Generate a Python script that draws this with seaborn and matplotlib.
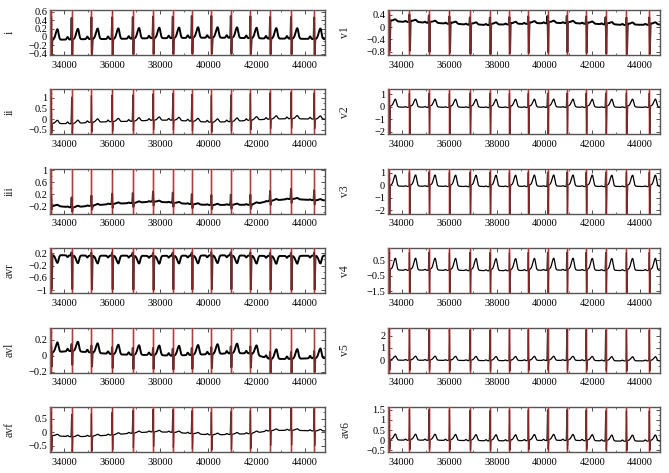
import numpy as np
import pandas as pd
import matplotlib
matplotlib.use("Agg")
import matplotlib.pyplot as plt
from matplotlib.ticker import FixedLocator, MultipleLocator, FuncFormatter
import seaborn as sns

# ---------------- data ----------------
LEADS = ["i", "ii", "iii", "avr", "avl", "avf", "v1", "v2", "v3", "v4", "v5", "av6"]
BEATS = [33470, 34320, 35140, 36000, 36860, 37700, 38520, 39310,
         40120, 40930, 41740, 42560, 43430, 44390]
X_TICKS = [34000, 36000, 38000, 40000, 42000, 44000]
XLIM = (33420, 44840)

# wave amplitudes relative to the baseline (per lead)
R_AMP = [0.55, 1.30, 0.35, 0.15, 0.10, 0.90, 0.30, 1.30, 1.30, 1.30, 2.60, 1.55]
S_AMP = [-0.40, -0.50, -0.15, -1.10, -0.18, -0.60, -0.95, -2.20, -2.25, -1.60, -0.90, -0.50]
T_AMP = [0.25, 0.15, 0.04, -0.25, 0.12, 0.06, 0.06, 0.60, 0.85, 0.75, 0.32, 0.28]
P_AMP = [0.06, 0.08, 0.02, -0.06, 0.03, 0.04, 0.03, 0.05, 0.05, 0.06, 0.06, 0.06]
ST_AMP = [0.0, 0.0, 0.0, 0.0, 0.0, 0.0, 0.05, 0.15, 0.15, 0.10, 0.05, 0.05]

# baseline level at each beat (per lead)
BASE_I = [-0.07, -0.06, -0.05, -0.05, -0.04, -0.03, -0.03, -0.02, -0.02, -0.02, -0.03, -0.04, -0.04, -0.05]
BASE_II = [-0.20, -0.22, -0.15, -0.12, -0.10, -0.05, -0.05, -0.10, -0.15, -0.12, -0.05, 0.00, 0.02, 0.00]
BASE_III = [-0.17, -0.24, -0.18, -0.12, -0.09, -0.04, -0.08, -0.13, -0.16, -0.15, -0.15, -0.02, 0.05, 0.00]
BASE_AVR = [0.14, 0.13, 0.12, 0.12, 0.12, 0.11, 0.12, 0.12, 0.13, 0.13, 0.12, 0.11, 0.11, 0.12]
BASE_AVL = [0.04, 0.06, 0.04, 0.02, 0.01, 0.01, 0.00, 0.01, 0.02, 0.03, 0.03, -0.04, -0.04, -0.03]
BASE_AVF = [-0.12, -0.17, -0.15, -0.10, -0.03, 0.02, 0.00, -0.05, -0.10, -0.08, -0.05, 0.06, 0.08, 0.05]
BASE_V1 = [0.17, 0.16, 0.13, 0.10, 0.07, 0.06, 0.08, 0.10, 0.12, 0.12, 0.10, 0.08, 0.06, 0.07]
BASE_V2 = [-0.05, -0.05, -0.05, -0.06, -0.06, -0.07, -0.07, -0.06, -0.05, -0.05, -0.06, -0.06, -0.06, -0.05]
BASE_V3 = [-0.10, -0.10, -0.10, -0.11, -0.12, -0.12, -0.12, -0.11, -0.10, -0.10, -0.11, -0.12, -0.12, -0.11]
BASE_V4 = [-0.15, -0.15, -0.15, -0.16, -0.17, -0.18, -0.18, -0.17, -0.15, -0.15, -0.16, -0.17, -0.17, -0.16]
BASE_V5 = [0.00, -0.01, -0.01, -0.02, -0.03, -0.04, -0.04, -0.03, -0.02, -0.02, -0.03, -0.05, -0.06, -0.05]
BASE_AV6 = [0.00, -0.01, -0.01, -0.02, -0.03, -0.04, -0.04, -0.03, -0.02, -0.02, -0.03, -0.05, -0.06, -0.05]
BASELINES = [BASE_I, BASE_II, BASE_III, BASE_AVR, BASE_AVL, BASE_AVF,
             BASE_V1, BASE_V2, BASE_V3, BASE_V4, BASE_V5, BASE_AV6]

YLIMS = [(-0.43, 0.64), (-0.72, 1.40), (-0.45, 1.05), (-1.09, 0.36), (-0.21, 0.35), (-0.74, 0.95),
         (-0.90, 0.55), (-2.20, 1.40), (-2.27, 1.32), (-1.63, 1.30), (-1.00, 2.65), (-0.58, 1.63)]
YTICKS = [[-0.4, -0.2, 0, 0.2, 0.4, 0.6], [-0.5, 0, 0.5, 1], [-0.2, 0.2, 0.6, 1],
          [-1, -0.6, -0.2, 0.2], [-0.2, 0, 0.2], [-0.5, 0, 0.5],
          [-0.8, -0.4, 0, 0.4], [-2, -1, 0, 1], [-2, -1, 0, 1],
          [-1.5, -0.5, 0.5], [0, 1, 2], [-0.5, 0, 0.5, 1, 1.5]]
YMINOR = [0.1, 0.25, 0.2, 0.2, 0.1, 0.25, 0.2, 0.5, 0.5, 0.5, 0.5, 0.25]
NOISY = [True, False, True, True, True, False, True, False, False, False, False, False]

# ---------------- signal from the read values ----------------
t = np.arange(XLIM[0] - 60, XLIM[1] + 60, 3.0)


def gauss(x, c, s):
    return np.exp(-0.5 * ((x - c) / s) ** 2)


def asym(x, c, sl, sr):
    s = np.where(x < c, sl, sr)
    return np.exp(-0.5 * ((x - c) / s) ** 2)


def lead_signal(k):
    y = np.interp(t, BEATS, BASELINES[k])
    for b in BEATS:
        y = y + P_AMP[k] * gauss(t, b - 170, 30)
        y = y + R_AMP[k] * gauss(t, b, 9) + S_AMP[k] * gauss(t, b + 22, 10)
        d = t - b - 25
        y = y + ST_AMP[k] * np.clip(d / 20, 0, 1) * np.exp(-np.maximum(d, 0) / 300)
        y = y + T_AMP[k] * asym(t, b + 260, 70, 45)
    return y


def fmt(v, pos):
    s = "%g" % round(v, 3)
    return s.replace("-", "\u2212")


# ---------------- figure ----------------
sns.set_theme(style="ticks")
plt.rcParams["font.family"] = ["Liberation Serif", "DejaVu Serif"]
plt.rcParams["axes.unicode_minus"] = True

W, H = 669, 473
fig = plt.figure(figsize=(W / 100, H / 100), dpi=100)

col_left = [50, 388]
col_width = [275, 272]
row_tops = [10, 89.4, 168.8, 248.2, 327.6, 407]
row_h = 45

for k, name in enumerate(LEADS):
    col = k // 6
    row = k % 6
    l = col_left[col] / W
    b = 1 - (row_tops[row] + row_h) / H
    ax = fig.add_axes([l, b, col_width[col] / W, row_h / H])

    df = pd.DataFrame({"x": t, "y": lead_signal(k)})
    sns.lineplot(data=df, x="x", y="y", ax=ax, color="black",
                 lw=1.4 if NOISY[k] else 0.9, estimator=None, sort=False, zorder=2)

    for bt in BEATS:
        ax.axvline(bt, color="#e07878", lw=2.0, alpha=0.5, zorder=3)
        ax.axvline(bt, color="#8e1a1a", lw=0.8, alpha=0.75, zorder=3)

    ax.set_xlim(*XLIM)
    ax.set_ylim(*YLIMS[k])
    ax.xaxis.set_major_locator(FixedLocator(X_TICKS))
    ax.xaxis.set_minor_locator(MultipleLocator(1000))
    ax.yaxis.set_major_locator(FixedLocator(YTICKS[k]))
    ax.yaxis.set_minor_locator(MultipleLocator(YMINOR[k]))
    ax.xaxis.set_major_formatter(FuncFormatter(lambda v, p: "%d" % v))
    ax.yaxis.set_major_formatter(FuncFormatter(fmt))
    ax.tick_params(axis="both", which="both", direction="in", top=True, right=True,
                   labelsize=7.5, colors="#333333", labelcolor="black", pad=2)
    ax.tick_params(which="major", length=3, width=0.6)
    ax.tick_params(which="minor", length=1.5, width=0.5)
    ax.tick_params(axis="x", pad=4)
    for sp in ax.spines.values():
        sp.set_color("#555555")
        sp.set_linewidth(1.0)
    ax.set_xlabel("")
    ax.set_ylabel(name, fontsize=8.5)
    ax.yaxis.set_label_coords(-0.125 if col == 0 else -0.135, 0.5)

fig.savefig("out.png", dpi=100)
